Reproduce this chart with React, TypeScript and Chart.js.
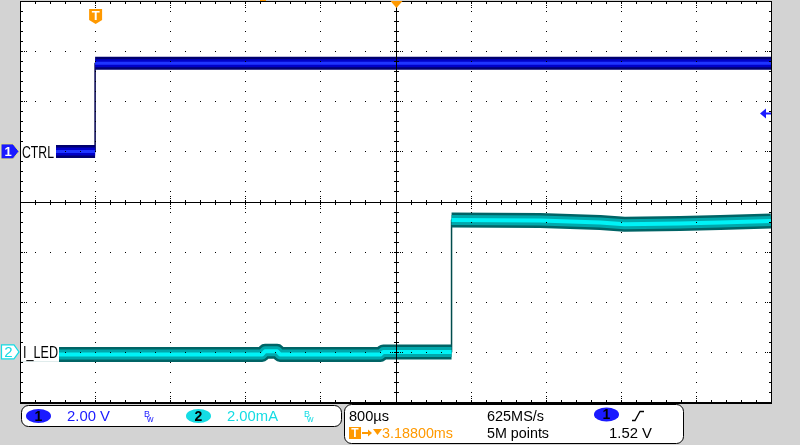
import { useEffect, useRef } from 'react';
import { Chart, registerables } from 'chart.js';

Chart.register(...registerables);

// ---- acquisition settings ----
const timePerDivMs = 0.8;
const horizDivs = 10;
const vertDivs = 8;
const timeStartMs = -0.8;
const ch1VoltsPerDiv = 2;
const ch1OffsetDiv = 1;
const ch2mAPerDiv = 2;
const ch2OffsetDiv = -3;
const triggerLevelV = 1.52;
const horizontalDelayMs = 3.2;

// ---- channel 1 (CTRL, volts) ----
const ch1LowTimeMs = [-0.8, 0];
const ch1LowVolts = [0, 0];
const ch1HighTimeMs = [0, 7.2];
const ch1HighVolts = [3.52, 3.52];

// ---- channel 2 (I_LED, mA) ----
const ch2LowTimeMs = [-0.8, 1.78, 1.81, 1.94, 1.97, 3.04, 3.07, 3.797];
const ch2LowmA = [-0.1, -0.1, 0.02, 0.02, -0.1, -0.1, 0.0, 0.0];
const ch2HighTimeMs = [3.797, 4.74, 5.38, 5.64, 6.23, 6.66, 7.2];
const ch2HighmA = [5.26, 5.24, 5.16, 5.09, 5.12, 5.16, 5.22];

// ---- labels ----
const ch1Name = 'CTRL';
const ch2Name = 'I_LED';
const ch1Scale = '2.00 V';
const ch2Scale = '2.00mA';
const timeScale = '800µs';
const triggerDelay = '3.18800ms';
const sampleRate = '625MS/s';
const recordLength = '5M points';
const triggerLevelText = '1.52 V';

const FONT = '"Liberation Sans", Arial, sans-serif';
const BLUE = '#1a1aff';
const CYAN = '#14dce4';
const ORANGE = '#ff9900';

const ch1Div = (v: number) => v / ch1VoltsPerDiv + ch1OffsetDiv;
const ch2Div = (v: number) => v / ch2mAPerDiv + ch2OffsetDiv;
const toPts = (t: number[], v: number[], f: (n: number) => number) =>
  t.map((x, i) => ({ x, y: f(v[i]) }));

function text(ctx: CanvasRenderingContext2D, s: string, x: number, y: number, color: string, size: number, maxW?: number, bold = false) {
  ctx.font = `${bold ? 'bold ' : ''}${size}px ${FONT}`;
  ctx.fillStyle = color;
  ctx.textAlign = 'left';
  ctx.textBaseline = 'alphabetic';
  if (maxW) ctx.fillText(s, x, y, maxW);
  else ctx.fillText(s, x, y);
}

function roundBox(ctx: CanvasRenderingContext2D, x: number, y: number, w: number, h: number, r: number) {
  ctx.beginPath();
  ctx.roundRect(x, y, w, h, r);
  ctx.fillStyle = '#ffffff';
  ctx.fill();
  ctx.strokeStyle = '#000';
  ctx.lineWidth = 1;
  ctx.stroke();
}

function badge(ctx: CanvasRenderingContext2D, cx: number, cy: number, fill: string, label: string) {
  ctx.beginPath();
  ctx.ellipse(cx, cy, 12.5, 7, 0, 0, Math.PI * 2);
  ctx.fillStyle = fill;
  ctx.fill();
  ctx.font = `bold 14px ${FONT}`;
  ctx.fillStyle = '#000';
  ctx.textAlign = 'center';
  ctx.textBaseline = 'middle';
  ctx.fillText(label, cx, cy + 1);
}

const scopePlugin = {
  id: 'scope',
  beforeDraw(chart: any) {
    const { ctx, chartArea: a, width, height } = chart;
    ctx.save();
    ctx.fillStyle = '#d3d3d3';
    ctx.fillRect(0, 0, width, height);
    ctx.fillStyle = '#ffffff';
    ctx.fillRect(a.left, a.top, a.right - a.left, a.bottom - a.top);
    ctx.restore();
  },
  afterDatasetsDraw(chart: any) {
    const { ctx, chartArea: a } = chart;
    const xs = chart.scales.x;
    const ys = chart.scales.y;
    const xAt = (d: number) => xs.getPixelForValue(timeStartMs + d * timePerDivMs);
    const yAt = (d: number) => ys.getPixelForValue(d);
    const L = Math.round(a.left), R = Math.round(a.right), T = Math.round(a.top), B = Math.round(a.bottom);
    const dot = (x: number, y: number) => ctx.fillRect(Math.round(x), Math.round(y), 1, 1);
    ctx.save();
    ctx.fillStyle = '#000';
    const half = vertDivs / 2;
    // dotted grid
    for (let i = 1; i < horizDivs; i++) {
      if (i === horizDivs / 2) continue;
      for (let m = 1; m < vertDivs * 5; m++) dot(xAt(i), yAt(-half + m / 5));
    }
    for (let k = -half + 1; k < half; k++) {
      if (k === 0) continue;
      for (let m = 1; m < horizDivs * 5; m++) dot(xAt(m / 5), yAt(k));
    }
    // center lines
    const cy = Math.round(yAt(0));
    const cx = Math.round(xAt(horizDivs / 2));
    ctx.fillRect(L, cy, R - L, 1);
    ctx.fillRect(cx, T, 1, B - T);
    for (let m = 1; m < horizDivs * 5; m++) ctx.fillRect(Math.round(xAt(m / 5)), cy - 2, 1, 5);
    for (let m = 1; m < vertDivs * 5; m++) ctx.fillRect(cx - 2, Math.round(yAt(-half + m / 5)), 5, 1);
    for (let i = 1; i < horizDivs; i++) for (const d of [-6, -4, 4, 6]) dot(xAt(i), cy + d);
    for (let k = -half + 1; k < half; k++) for (const d of [-6, -4, 4, 6]) dot(cx + d, yAt(k));
    // border ticks
    for (let m = 1; m < vertDivs * 5; m++) {
      const y = Math.round(yAt(-half + m / 5));
      ctx.fillRect(L + 1, y, 2, 1);
      ctx.fillRect(R - 2, y, 2, 1);
      if (m % 5 === 0) {
        dot(L + 4, y); dot(L + 6, y);
        dot(R - 4, y); dot(R - 6, y);
      }
    }
    for (let m = 1; m < horizDivs * 5; m++) {
      const x = Math.round(xAt(m / 5));
      ctx.fillRect(x, T + 1, 1, 2);
      ctx.fillRect(x, B - 2, 1, 2);
      if (m % 5 === 0) {
        dot(x, T + 4); dot(x, T + 6);
        dot(x, B - 4); dot(x, B - 6);
      }
    }
    // border
    ctx.fillRect(L, T, 1, B - T + 1);
    ctx.fillRect(R, T, 1, B - T + 1);
    ctx.fillRect(L, T, R - L + 1, 1);
    ctx.fillRect(L, B, R - L + 1, 2);
    ctx.restore();
  },
  afterDraw(chart: any) {
    const { ctx, chartArea: a } = chart;
    const xs = chart.scales.x;
    const ys = chart.scales.y;
    const L = Math.round(a.left), R = Math.round(a.right), T = Math.round(a.top);
    ctx.save();

    // channel 1 label + marker
    const y1 = ys.getPixelForValue(ch1OffsetDiv);
    ctx.fillStyle = '#fff';
    ctx.fillRect(L + 1, y1 - 7, 35, 14);
    text(ctx, ch1Name, L + 2, y1 + 6.5, '#000', 16, 32);
    ctx.beginPath();
    ctx.moveTo(1, y1 - 7.5); ctx.lineTo(13, y1 - 7.5); ctx.lineTo(19, y1); ctx.lineTo(13, y1 + 7.5); ctx.lineTo(1, y1 + 7.5); ctx.closePath();
    ctx.fillStyle = BLUE; ctx.fill();
    ctx.strokeStyle = '#e6e68c'; ctx.lineWidth = 1; ctx.stroke();
    ctx.font = `bold 13px ${FONT}`; ctx.fillStyle = '#fff'; ctx.textAlign = 'center'; ctx.textBaseline = 'middle';
    ctx.fillText('1', 8, y1 + 1);

    // channel 2 label + marker
    const y2 = ys.getPixelForValue(ch2OffsetDiv);
    ctx.fillStyle = '#fff';
    ctx.fillRect(L + 1, y2 - 7, 38, 17);
    text(ctx, ch2Name, L + 3, y2 + 6.5, '#000', 16, 35);
    ctx.beginPath();
    ctx.moveTo(1.5, y2 - 7); ctx.lineTo(14, y2 - 7); ctx.lineTo(19, y2); ctx.lineTo(14, y2 + 7); ctx.lineTo(1.5, y2 + 7); ctx.closePath();
    ctx.fillStyle = '#fff'; ctx.fill();
    ctx.strokeStyle = CYAN; ctx.lineWidth = 1.2; ctx.stroke();
    ctx.font = `15px ${FONT}`; ctx.fillStyle = CYAN; ctx.textAlign = 'center'; ctx.textBaseline = 'middle';
    ctx.fillText('2', 8.5, y2 + 1);

    // trigger marker T at time 0
    const tx = xs.getPixelForValue(0) + 0.5;
    ctx.beginPath();
    ctx.moveTo(tx - 6.5, 9); ctx.lineTo(tx + 6.5, 9); ctx.lineTo(tx + 6.5, 20); ctx.lineTo(tx, 24); ctx.lineTo(tx - 6.5, 20); ctx.closePath();
    ctx.fillStyle = ORANGE; ctx.fill();
    ctx.font = `bold 13px ${FONT}`; ctx.fillStyle = '#fff'; ctx.textAlign = 'center'; ctx.textBaseline = 'middle';
    ctx.fillText('T', tx, 16);

    // horizontal delay marker
    const dx = Math.round(xs.getPixelForValue(horizontalDelayMs)) + 0.5;
    ctx.beginPath();
    ctx.moveTo(dx - 6, T); ctx.lineTo(dx + 6, T); ctx.lineTo(dx, T + 7); ctx.closePath();
    ctx.fillStyle = ORANGE; ctx.fill();
    ctx.fillRect(260, 0, 6, 1);

    // trigger level arrow
    const ty = Math.round(ys.getPixelForValue(ch1Div(triggerLevelV))) + 0.5;
    ctx.beginPath();
    ctx.moveTo(R - 11, ty); ctx.lineTo(R - 5, ty - 5); ctx.lineTo(R - 5, ty + 5); ctx.closePath();
    ctx.fillStyle = BLUE; ctx.fill();
    ctx.fillRect(R - 6, ty - 1, 6, 2);

    // ---- status bar ----
    roundBox(ctx, 21.5, 405.5, 320, 21, 7);
    roundBox(ctx, 344.5, 404.5, 339, 39, 7);

    badge(ctx, 38.5, 416, BLUE, '1');
    text(ctx, ch1Scale, 67, 421, BLUE, 15, 43);
    text(ctx, 'B', 144, 417, BLUE, 9);
    text(ctx, 'w', 147, 422, BLUE, 9);
    badge(ctx, 198.5, 416, CYAN, '2');
    text(ctx, ch2Scale, 227, 421, CYAN, 15, 51);
    text(ctx, 'B', 304, 417, CYAN, 9);
    text(ctx, 'w', 307, 422, CYAN, 9);

    text(ctx, timeScale, 349, 421, '#000', 15, 40);
    text(ctx, sampleRate, 487, 421, '#000', 15, 57);
    badge(ctx, 606.5, 414.5, BLUE, '1');
    ctx.beginPath();
    ctx.moveTo(632, 420.5); ctx.lineTo(635, 420.5); ctx.lineTo(640, 411.5); ctx.lineTo(644, 411.5);
    ctx.strokeStyle = '#000'; ctx.lineWidth = 1.3; ctx.stroke();

    // row 2
    ctx.fillStyle = ORANGE;
    ctx.fillRect(349, 427, 12, 12);
    ctx.font = `bold 12px ${FONT}`; ctx.fillStyle = '#fff'; ctx.textAlign = 'center'; ctx.textBaseline = 'middle';
    ctx.fillText('T', 355, 433.5);
    ctx.fillStyle = ORANGE;
    ctx.fillRect(362, 432, 7, 2);
    ctx.beginPath(); ctx.moveTo(368, 429.5); ctx.lineTo(372, 433); ctx.lineTo(368, 436.5); ctx.closePath(); ctx.fill();
    ctx.beginPath(); ctx.moveTo(373, 429); ctx.lineTo(382, 429); ctx.lineTo(377.5, 435); ctx.closePath(); ctx.fill();
    text(ctx, triggerDelay, 382, 438, ORANGE, 15, 71);
    text(ctx, recordLength, 487, 438, '#000', 15, 62);
    text(ctx, triggerLevelText, 609, 438, '#000', 15, 43);

    ctx.restore();
  },
};

function bandDatasets(low: any[], high: any[], layers: { w: number; c: string }[], edgeColor: string, baseOrder: number) {
  const band = [...low, { x: high[0].x, y: null }, ...high];
  const sets: any[] = layers.map((l, i) => ({
    data: band,
    borderColor: l.c,
    borderWidth: l.w,
    order: baseOrder + (layers.length - i),
  }));
  sets.push({ data: [...low, ...high], borderColor: edgeColor, borderWidth: 1.5, order: baseOrder + layers.length + 1 });
  return sets;
}

export default function App() {
  const ref = useRef<HTMLCanvasElement>(null);
  useEffect(() => {
    if (!ref.current) return;
    const ch1Low = toPts(ch1LowTimeMs, ch1LowVolts, ch1Div);
    const ch1High = toPts(ch1HighTimeMs, ch1HighVolts, ch1Div);
    const ch2Low = toPts(ch2LowTimeMs, ch2LowmA, ch2Div);
    const ch2High = toPts(ch2HighTimeMs, ch2HighmA, ch2Div);
    const datasets = [
      ...bandDatasets(ch1Low, ch1High, [
        { w: 13, c: '#00006e' },
        { w: 8, c: '#0000c8' },
        { w: 3, c: '#1e34ff' },
      ], '#000050', 0),
      ...bandDatasets(ch2Low, ch2High, [
        { w: 15, c: '#006466' },
        { w: 10, c: '#00a8ac' },
        { w: 4, c: '#00f2f6' },
      ], '#004c4c', 10),
    ].map((d) => ({
      ...d,
      pointRadius: 0,
      tension: 0,
      borderCapStyle: 'butt',
      borderJoinStyle: 'round',
      spanGaps: false,
      fill: false,
      clip: 0,
    }));
    const chart = new Chart(ref.current, {
      type: 'line',
      data: { datasets },
      options: {
        responsive: false,
        animation: false,
        devicePixelRatio: 1,
        events: [],
        layout: { padding: { left: 20, right: 29, top: 1, bottom: 43 } },
        scales: {
          x: { type: 'linear', min: timeStartMs, max: timeStartMs + horizDivs * timePerDivMs, display: false },
          y: { type: 'linear', min: -vertDivs / 2, max: vertDivs / 2, display: false },
        },
        plugins: { legend: { display: false }, tooltip: { enabled: false } },
      },
      plugins: [scopePlugin],
    } as any);
    return () => chart.destroy();
  }, []);
  return (
    <div style={{ position: 'fixed', left: 0, top: 0, width: 800, height: 445 }}>
      <canvas ref={ref} width={800} height={445} style={{ display: 'block', width: 800, height: 445 }} />
    </div>
  );
}
